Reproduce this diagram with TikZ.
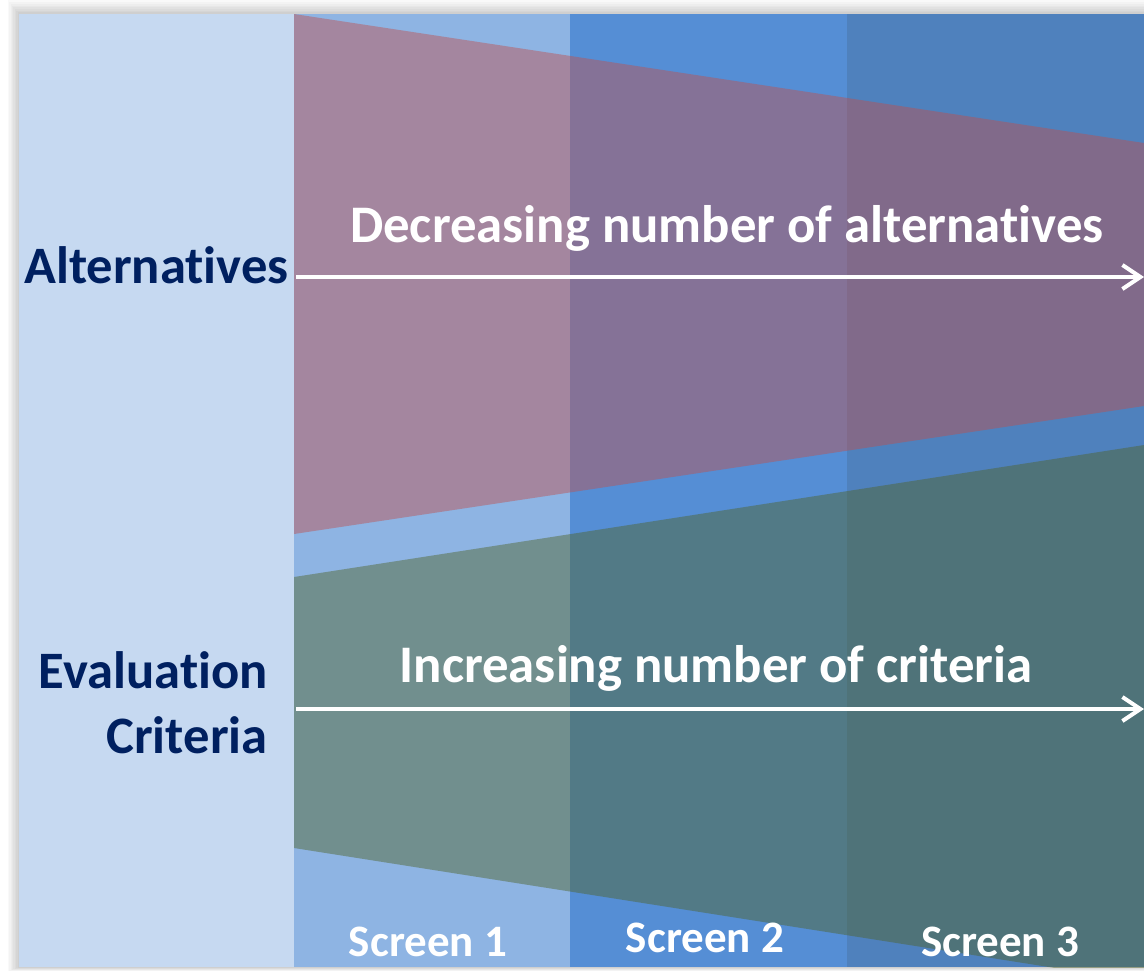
\documentclass[tikz,border=0pt]{standalone}
\usepackage{fontspec}
\setmainfont[Ligatures=NoCommon]{Carlito}
\usetikzlibrary{arrows.meta}
\usetikzlibrary{positioning}

\definecolor{sidepanel}{HTML}{C6D9F1}
\definecolor{screenone}{HTML}{8EB4E3}
\definecolor{screentwo}{HTML}{558ED5}
\definecolor{screenthree}{HTML}{4F81BD}
\definecolor{altshade}{HTML}{C0504D}
\definecolor{critshade}{HTML}{4F6228}
\definecolor{navytext}{HTML}{002060}

\begin{document}
\begin{tikzpicture}[x=0.5pt, y=-0.5pt,
    band/.style={fill opacity=0.45, draw=none},
    flow/.style={white, line width=2pt, -{Straight Barb[length=9pt, width=12pt, line width=2pt]}},
    rowlabel/.style={font=\bfseries\fontsize{26.3}{32}\selectfont, text=navytext, inner sep=0pt},
    flowlabel/.style={font=\bfseries\fontsize{26.4}{32}\selectfont, text=white, inner sep=0pt},
    screenlabel/.style={font=\bfseries\fontsize{22.5}{27}\selectfont, text=white, inner sep=0pt}]

  \useasboundingbox (0,0) rectangle (1144,971);
  \fill[white] (0,0) rectangle (1144,971);
  % soft shadow round the slide
  \foreach \i in {1,...,8}
    \fill[black, opacity=0.025] (19-1.4*\i,14-1.7*\i) rectangle (1144,967+0.5*\i);

  % side panel and the three screens
  \fill[sidepanel] (19,14) rectangle (294,967);
  \fill[screenone] (294,14) rectangle (570,967);
  \fill[screentwo] (570,14) rectangle (847,967);
  \fill[screenthree] (847,14) rectangle (1144,967);

  % alternatives narrow, criteria widen
  \fill[band, altshade] (294,14) -- (1144,143) -- (1144,406) -- (294,534) -- cycle;
  \begin{scope}
    \clip (294,14) rectangle (1144,967);
    \fill[band, critshade] (294,577) -- (1144,445) -- (1144,982) -- (294,848) -- cycle;
  \end{scope}

  \coordinate (altstart) at (296,277);
  \coordinate (altend) at (1144,277);
  \coordinate (critstart) at (296,709);
  \coordinate (critend) at (1144,709);
  \draw[flow] (altstart) -- (altend);
  \draw[flow] (critstart) -- (critend);

  \node[flowlabel, anchor=base] (altflow) at (727,242) {Decreasing number of alternatives};
  \node[flowlabel, anchor=base] (critflow) at (716,682) {Increasing number of criteria};

  \node[rowlabel, anchor=base east] (altrow) at (289,283) {Alternatives};
  \node[rowlabel, anchor=base east] (evalrow) at (268,688) {Evaluation};
  \node[rowlabel, anchor=base east] (critrow) at (268,753) {Criteria};

  \node[screenlabel, anchor=base] (screen1) at (428,956) {Screen 1};
  \node[screenlabel, anchor=base] (screen2) at (705,952) {Screen 2};
  \node[screenlabel, anchor=base] (screen3) at (1000,956) {Screen 3};
\end{tikzpicture}
\end{document}
